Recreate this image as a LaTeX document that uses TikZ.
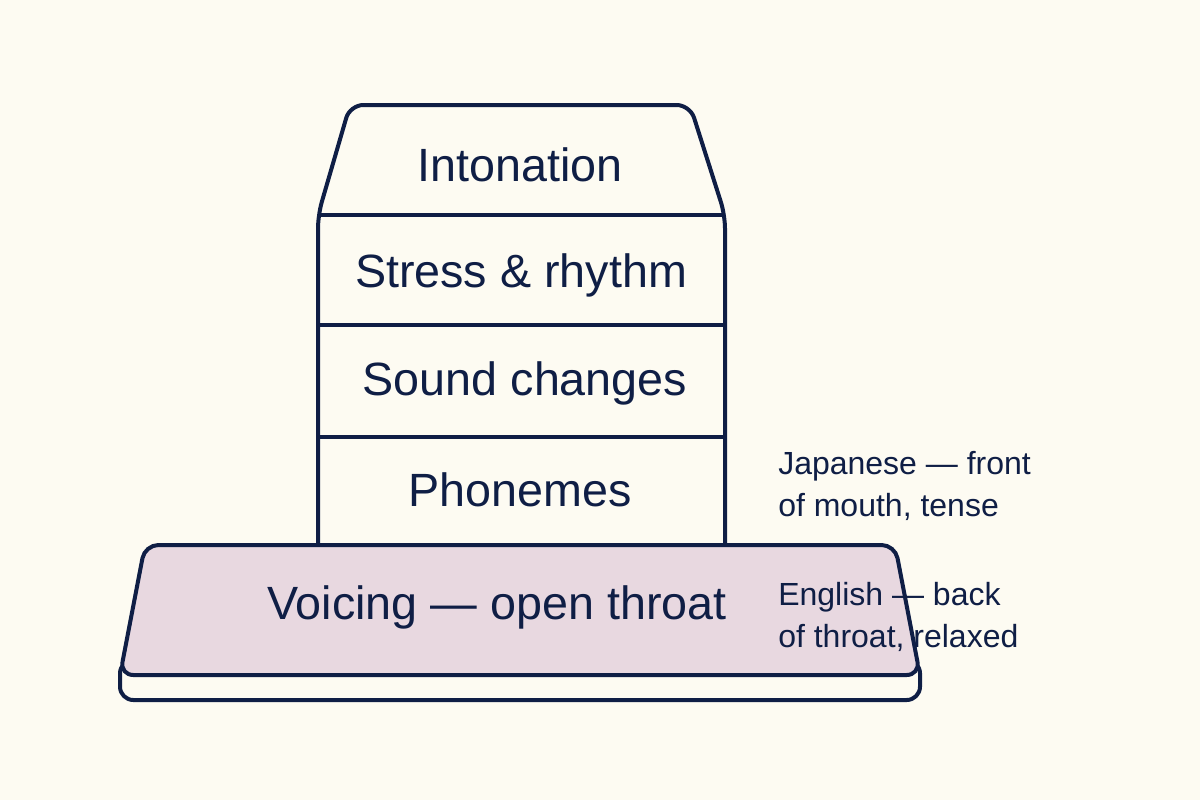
\documentclass[tikz,border=0pt]{standalone}
\usepackage{fontspec}
\setmainfont{Liberation Sans}
\definecolor{bg}{HTML}{FDFBF2}
\definecolor{ink}{HTML}{0F1E45}
\definecolor{pinkfill}{HTML}{E8D8E0}
\begin{document}
\begin{tikzpicture}[x=0.75pt,y=-0.75pt,
  edge/.style={draw=ink,line width=3pt,line join=round,rounded corners=10pt},
  big/.style={text=ink,font=\fontsize{35}{40}\selectfont,inner sep=0pt},
  side/.style={text=ink,font=\fontsize{24}{31.5}\selectfont,align=left,inner sep=0pt,anchor=north west}]
\fill[bg] (0,0) rectangle (1200,800);
\useasboundingbox (0,0) rectangle (1200,800);
% tower
\draw[edge,fill=bg] (318,545) -- (318,215) -- (350,105) -- (690,105) -- (725,215) -- (725,545);
\draw[draw=ink,line width=3pt] (318,215) -- (725,215);
\draw[draw=ink,line width=3pt] (318,325) -- (725,325);
\draw[draw=ink,line width=3pt] (318,437) -- (725,437);
% base
\draw[edge,fill=bg] (120,660) rectangle (920,700);
\draw[edge,fill=pinkfill] (145,545) -- (895,545) -- (920,675) -- (120,675) -- cycle;
% labels
\node[big] (l1) at (520,165) {Intonation};
\node[big] (l2) at (521,275) {Stress \& rhythm};
\node[big] (l3) at (525,383) {Sound changes};
\node[big] (l4) at (520,490) {Phonemes};
\node[big] (l5) at (497,607) {Voicing — open throat};
\node[side] (j) at (778,451) {Japanese — front\\of mouth, tense};
\node[side] (e) at (778,582) {English — back\\of throat, relaxed};
\end{tikzpicture}
\end{document}
